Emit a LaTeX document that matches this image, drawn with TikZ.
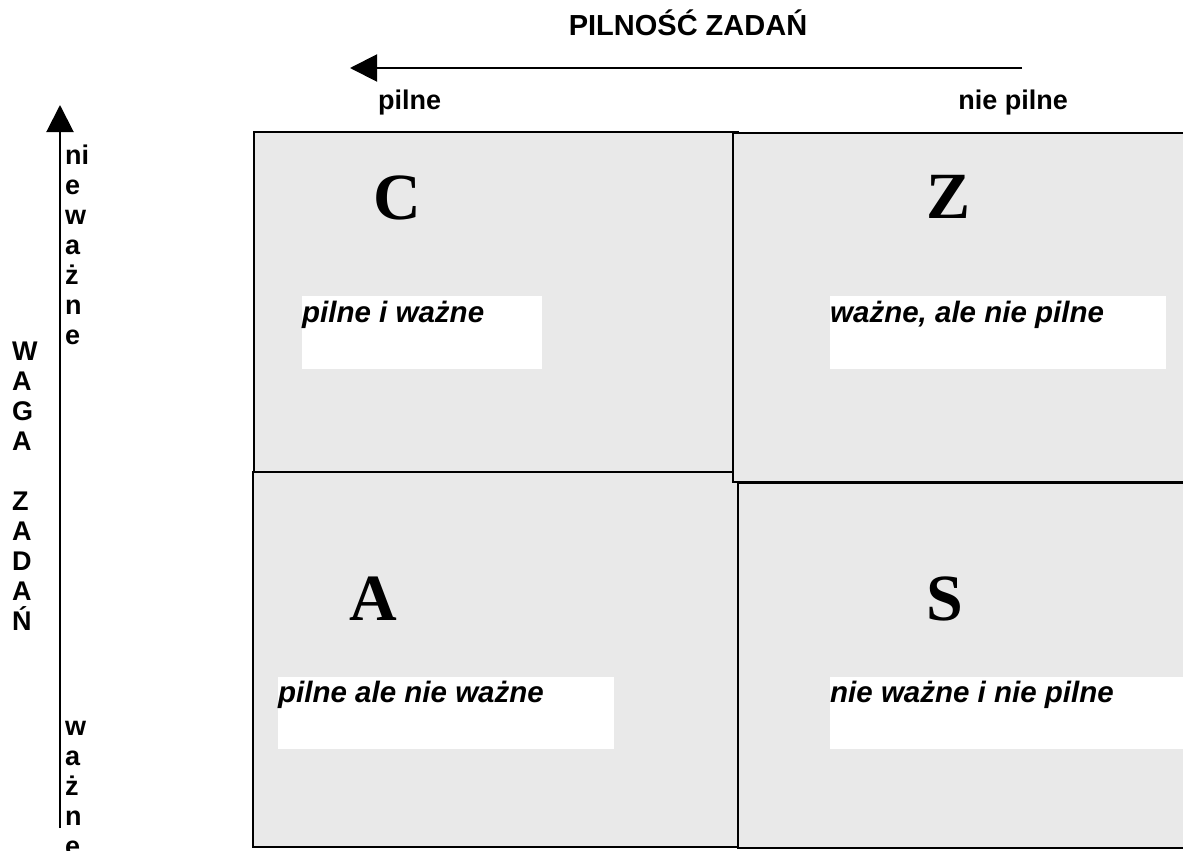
\documentclass[tikz,border=0pt]{standalone}
\usepackage{fontspec}
\setmainfont{Liberation Sans}
\newfontfamily\serifbig{Liberation Serif}
\usetikzlibrary{arrows.meta}
\definecolor{quadfill}{RGB}{233,233,233}
\begin{document}
\begin{tikzpicture}[x=1pt,y=-1pt,
  quad/.style={draw=black, line width=1.6pt, fill=quadfill},
  whitebox/.style={fill=white, draw=none},
  lab/.style={font=\fontsize{27}{30}\selectfont\bfseries, inner sep=0pt, anchor=base west},
  note/.style={font=\fontsize{29.5}{32}\selectfont\bfseries\itshape, inner sep=0pt, anchor=base west},
  big/.style={font=\serifbig\fontsize{66}{70}\selectfont\bfseries, inner sep=0pt, anchor=base},
  arr/.style={line width=2pt, -{Triangle[length=27pt,width=27pt]}}]
\useasboundingbox (0,0) rectangle (1183,851);
\clip (0,0) rectangle (1183,851);
% quadrants
\draw[quad] (254,132) rectangle (738,472);
\draw[quad] (253,472) rectangle (738,847);
\draw[quad] (733,133) rectangle (1200,482);
\draw[quad] (738,483) rectangle (1200,848);
% white label boxes
\fill[whitebox] (302,296) rectangle (542,369);
\fill[whitebox] (830,296) rectangle (1166,369);
\fill[whitebox] (278,677) rectangle (614,749);
\fill[whitebox] (830,677) rectangle (1200,749);
% notes
\node[note] (tc) at (302,322) {pilne i ważne};
\node[note] (tz) at (830,322) {ważne, ale nie pilne};
\node[note] (ta) at (278,702) {pilne ale nie ważne};
\node[note] (ts) at (830,702) {nie ważne i nie pilne};
% big letters
\node[big] (lc) at (397,219) {C};
\node[big] (lz) at (948,218) {Z};
\node[big] (la) at (373.5,620) {A};
\node[big] (ls) at (944.5,620) {S};
% header
\node[lab, anchor=base, font=\fontsize{29}{32}\selectfont\bfseries] (title) at (688,36) {PILNOŚĆ ZADAŃ};
\node[lab] (pl) at (378,110) {pilne};
\node[lab, anchor=base east] (npl) at (1068,110) {nie pilne};
% arrows
\coordinate (hs) at (1022,68);
\coordinate (he) at (350,68);
\draw[arr] (hs) -- (he);
\coordinate (vs) at (60,828);
\coordinate (ve) at (60,105);
\draw[arr] (vs) -- (ve);
% vertical texts
\foreach \t [count=\i] in {ni,e,w,a,ż,n,e}
  \node[lab] (nw\i) at (65,{134+30*\i}) {\t};
\foreach \t [count=\i] in {W,A,G,A}
  \node[lab] (wg\i) at (12,{330+30*\i}) {\t};
\foreach \t [count=\i] in {Z,A,D,A,Ń}
  \node[lab] (zd\i) at (12,{480+30*\i}) {\t};
\foreach \t [count=\i] in {w,a,ż,n,e}
  \node[lab] (wz\i) at (65,{705+30*\i}) {\t};
\end{tikzpicture}
\end{document}
